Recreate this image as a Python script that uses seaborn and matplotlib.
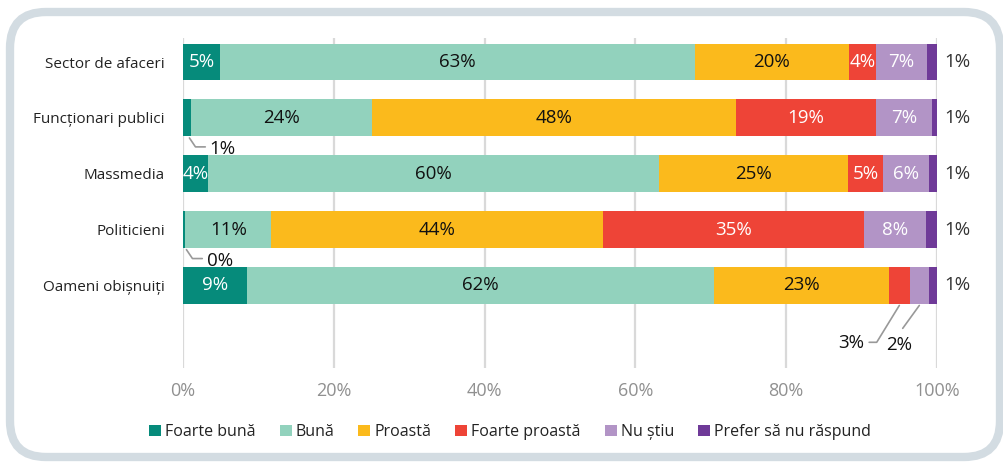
import numpy as np
import pandas as pd
import seaborn as sns
import matplotlib.pyplot as plt
from matplotlib.patches import FancyBboxPatch, Patch
from matplotlib.transforms import IdentityTransform

categories = ["Sector de afaceri", "Funcționari publici", "Massmedia",
              "Politicieni", "Oameni obișnuiți"]
series = ["Foarte bună", "Bună", "Proastă", "Foarte proastă", "Nu știu",
          "Prefer să nu răspund"]

# segment widths
foarte_buna = [4.9, 1.1, 3.3, 0.3, 8.5]
buna = [63.0, 23.9, 59.8, 11.4, 61.9]
proasta = [20.4, 48.3, 25.1, 44.0, 23.2]
foarte_proasta = [3.6, 18.6, 4.6, 34.6, 2.8]
nu_stiu = [6.8, 7.4, 6.1, 8.2, 2.5]
prefer = [1.3, 0.8, 1.1, 1.5, 1.1]

# printed labels
lab_fb = [5, 1, 4, 0, 9]
lab_b = [63, 24, 60, 11, 62]
lab_p = [20, 48, 25, 44, 23]
lab_fp = [4, 19, 5, 35, 3]
lab_ns = [7, 7, 6, 8, 2]
lab_pr = [1, 1, 1, 1, 1]

colors = ["#068b7b", "#92d2bd", "#fbba1c", "#ee4437", "#b294c6", "#6f3a98"]
text_colors = ["white", "#111111", "#111111", "white", "white", "#333333"]
fs = 13.5

sns.set_style("white")
plt.rcParams["font.family"] = ["Open Sans", "DejaVu Sans"]

fig = plt.figure(figsize=(10.04, 4.62), dpi=100)
ax = fig.add_axes([0.1823, 0.2035, 0.7510, 0.7142])

vals = np.array([foarte_buna, buna, proasta, foarte_proasta, nu_stiu, prefer])
labs = np.array([lab_fb, lab_b, lab_p, lab_fp, lab_ns, lab_pr])
cum = vals.cumsum(axis=0)
starts = cum - vals

# draw cumulative bars back to front so each layer shows its own segment
for k in range(len(series) - 1, -1, -1):
    df = pd.DataFrame({"cat": categories, "val": cum[k]})
    sns.barplot(data=df, x="val", y="cat", color=colors[k], orient="h",
                width=0.66, linewidth=0, saturation=1, ax=ax)

# labels inside segments
for k in range(5):
    for i in range(len(categories)):
        if vals[k, i] >= 3:
            ax.text(starts[k, i] + vals[k, i] / 2, i, f"{labs[k, i]}%",
                    ha="center", va="center", fontsize=fs,
                    color=text_colors[k])

# "prefer" labels to the right
for i in range(len(categories)):
    ax.text(101.0, i, f"{lab_pr[i]}%", ha="left", va="center",
            fontsize=fs, color="#333333")

# small first segments with leader lines (rows 1 and 3)
for i in [1, 3]:
    x0 = starts[0, i] + vals[0, i] / 2 + 0.3
    ax.plot([x0, x0 + 0.8, x0 + 2.1], [i + 0.36, i + 0.52, i + 0.52],
            color="#999999", lw=1.2, clip_on=False)
    ax.text(x0 + 2.7, i + 0.56, f"{lab_fb[i]}%", ha="left", va="center",
            fontsize=fs, color="#111111")

# row 4 small segments
i = 4
xfp = starts[3, i] + vals[3, i] / 2
ax.plot([xfp, xfp - 3.0, xfp - 4.0], [i + 0.36, i + 1.02, i + 1.02],
        color="#999999", lw=1.2, clip_on=False)
ax.text(xfp - 4.6, i + 1.04, f"{lab_fp[i]}%", ha="right", va="center",
        fontsize=fs, color="#111111")
xns = starts[4, i] + vals[4, i] / 2
ax.plot([xns, xns - 2.2], [i + 0.36, i + 0.77],
        color="#999999", lw=1.2, clip_on=False)
ax.text(xns - 2.7, i + 1.06, f"{lab_ns[i]}%", ha="center", va="center",
        fontsize=fs, color="#111111")

ax.set_xlim(0, 100)
ax.set_ylim(5.48, -0.43)
ax.set_xticks(range(0, 101, 20))
ax.set_xticklabels([f"{t}%" for t in range(0, 101, 20)], fontsize=13,
                   color="#909090")
ax.tick_params(axis="x", length=0, pad=10)
ax.tick_params(axis="y", length=0, pad=13, labelsize=11, labelcolor="#222222")
ax.set_xlabel("")
ax.set_ylabel("")
ax.grid(axis="x", color="#d9d9d9", lw=1.6)
ax.grid(axis="y", visible=False)
ax.set_axisbelow(True)
sns.despine(ax=ax, left=True, bottom=True)

handles = [Patch(facecolor=c, edgecolor="none") for c in colors]
fig.legend(handles, series, loc="center", bbox_to_anchor=(0.508, 0.065),
           ncol=6, frameon=False, fontsize=11.5, handlelength=0.75,
           handleheight=0.75, handletextpad=0.25, columnspacing=1.5,
           labelcolor="#222222")

frame = FancyBboxPatch((10, 5), 990, 445,
                       boxstyle="round,pad=0,rounding_size=36",
                       facecolor="none", edgecolor="#d3dce2", lw=6,
                       transform=IdentityTransform())
fig.add_artist(frame)

fig.savefig("out.png", dpi=100, facecolor="white")
